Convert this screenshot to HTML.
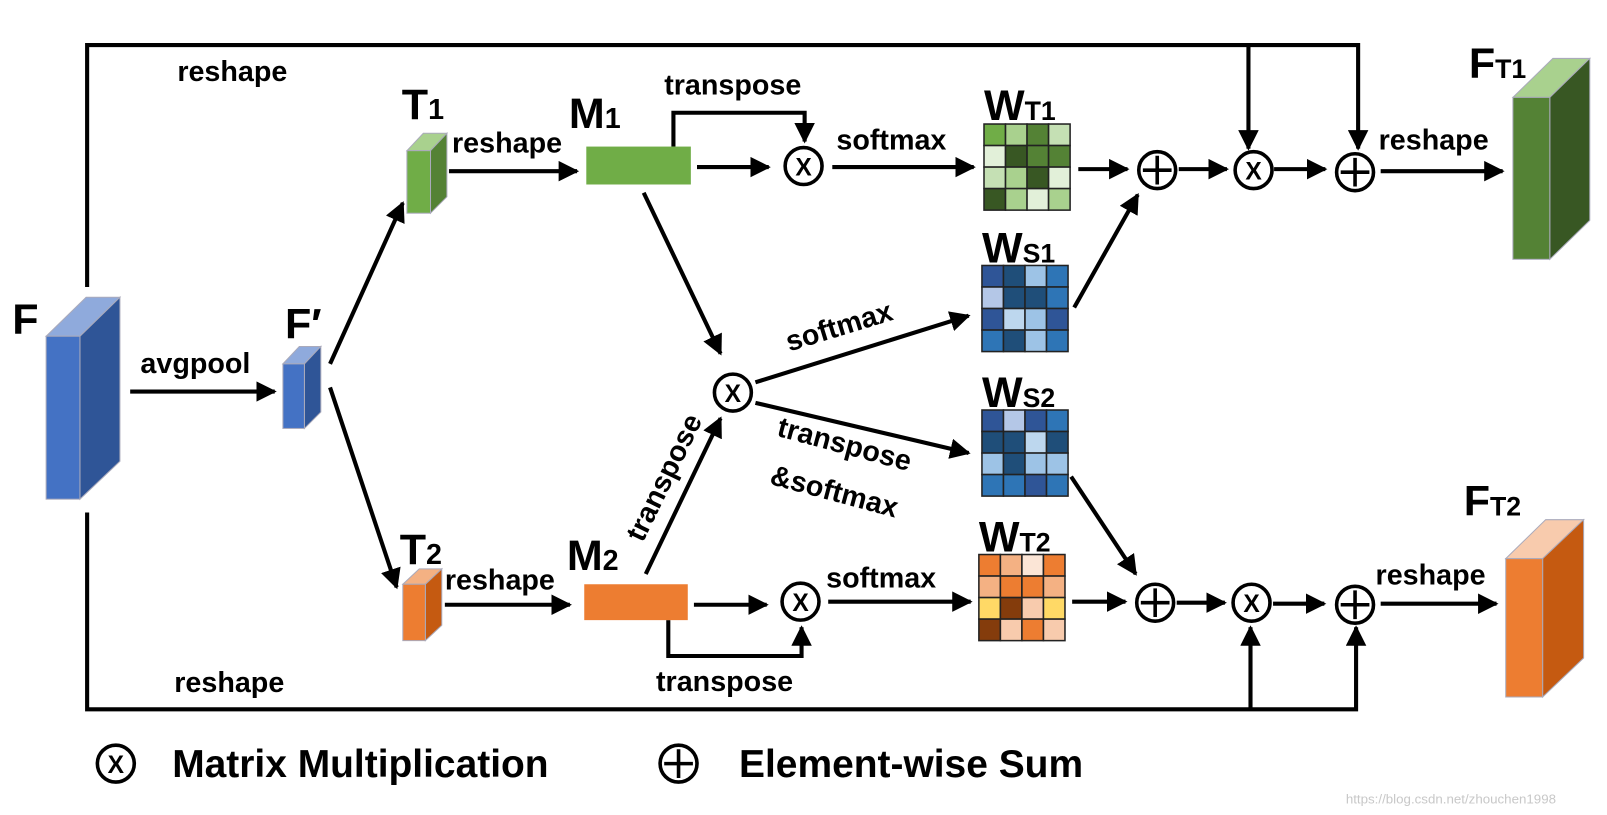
<!DOCTYPE html>
<html><head><meta charset="utf-8"><style>
html,body{margin:0;padding:0;background:#fff;}
svg{display:block}
text{font-family:"Liberation Sans","DejaVu Sans",sans-serif;font-weight:bold;fill:#000}
</style></head><body>
<svg width="1607" height="815" viewBox="0 0 1607 815" xmlns="http://www.w3.org/2000/svg">
<defs>
<marker id="a" viewBox="0 0 10 10" refX="9" refY="5" markerWidth="5" markerHeight="5" orient="auto" markerUnits="strokeWidth"><path d="M0,0 L10,5 L0,10 z" fill="#000"/></marker>
</defs>
<g transform="scale(1.025)">
<g stroke="#000" stroke-width="4" fill="none">
<path d="M85,280 V44 H1325 V145" marker-end="url(#a)"/>
<path d="M1218,44 V145" marker-end="url(#a)"/>
<path d="M85,500 V692 H1323 V612" marker-end="url(#a)"/>
<path d="M1220,692 V612" marker-end="url(#a)"/>
<path d="M127,382 H268" marker-end="url(#a)"/>
<path d="M322,355 L393,198" marker-end="url(#a)"/>
<path d="M322,378 L387,573" marker-end="url(#a)"/>
<path d="M438,167 H563" marker-end="url(#a)"/>
<path d="M434,590 H556" marker-end="url(#a)"/>
<path d="M680,163 H750" marker-end="url(#a)"/>
<path d="M657,143 V110 H785 V138" marker-end="url(#a)"/>
<path d="M812,163 H950" marker-end="url(#a)"/>
<path d="M1052,165 H1100" marker-end="url(#a)"/>
<path d="M1150,165 H1197" marker-end="url(#a)"/>
<path d="M1243,165 H1293" marker-end="url(#a)"/>
<path d="M1347,167 H1466" marker-end="url(#a)"/>
<path d="M1048,300 L1110,190" marker-end="url(#a)"/>
<path d="M628,188 L703,345" marker-end="url(#a)"/>
<path d="M630,560 L703,408" marker-end="url(#a)"/>
<path d="M737,373 L945,308" marker-end="url(#a)"/>
<path d="M737,393 L945,442" marker-end="url(#a)"/>
<path d="M1045,465 L1108,560" marker-end="url(#a)"/>
<path d="M677,590 H748" marker-end="url(#a)"/>
<path d="M652,605 V640 H782 V612" marker-end="url(#a)"/>
<path d="M808,587 H947" marker-end="url(#a)"/>
<path d="M1046,587 H1098" marker-end="url(#a)"/>
<path d="M1148,588 H1195" marker-end="url(#a)"/>
<path d="M1242,589 H1292" marker-end="url(#a)"/>
<path d="M1347,589 H1460" marker-end="url(#a)"/>
</g>
<g stroke="#000" stroke-width="3.5" fill="#fff">
<circle cx="784" cy="162" r="18"/><circle cx="715" cy="383" r="18"/><circle cx="781" cy="587" r="18"/>
<circle cx="1223" cy="166" r="18"/><circle cx="1221" cy="588" r="18"/><circle cx="113" cy="745" r="18"/>
<circle cx="1129" cy="166" r="18"/><circle cx="1322" cy="168" r="18"/><circle cx="1127" cy="588" r="18"/><circle cx="1322" cy="590" r="18"/><circle cx="662" cy="745" r="18"/>
</g>
<g stroke="#000" stroke-width="3.5">
<path d="M1129,152 V180 M1115,166 H1143"/><path d="M1322,154 V182 M1308,168 H1336"/>
<path d="M1127,574 V602 M1113,588 H1141"/><path d="M1322,576 V604 M1308,590 H1336"/>
<path d="M662,731 V759 M648,745 H676"/>
</g>
<g font-size="24" text-anchor="middle">
<text x="784" y="171">X</text><text x="715" y="392">X</text><text x="781" y="596">X</text>
<text x="1223" y="175">X</text><text x="1221" y="597">X</text><text x="113" y="754">X</text>
</g>
<g stroke="#aab" stroke-width="1">
<path d="M45,328 L84,290 H117 L78,328 Z" fill="#8faadc"/><path d="M78,328 L117,290 V450 L78,487 Z" fill="#2f5597"/><rect x="45" y="328" width="33" height="159" fill="#4472c4"/>
<path d="M276,355 L292,338 H313 L297,355 Z" fill="#8faadc"/><path d="M297,355 L313,338 V402 L297,418 Z" fill="#2f5597"/><rect x="276" y="355" width="21" height="63" fill="#4472c4"/>
<path d="M397,147 L413,130 H436 L420,147 Z" fill="#a9d18e"/><path d="M420,147 L436,130 V192 L420,208 Z" fill="#548235"/><rect x="397" y="147" width="23" height="61" fill="#70ad47"/>
<path d="M393,570 L409,555 H431 L415,570 Z" fill="#f4b183"/><path d="M415,570 L431,555 V610 L415,625 Z" fill="#c55a11"/><rect x="393" y="570" width="22" height="55" fill="#ed7d31"/>
<path d="M1476,95 L1515,57 H1551 L1512,95 Z" fill="#a9d18e"/><path d="M1512,95 L1551,57 V215 L1512,253 Z" fill="#385723"/><rect x="1476" y="95" width="36" height="158" fill="#548235"/>
<path d="M1469,545 L1508,507 H1545 L1505,545 Z" fill="#f8cbad"/><path d="M1505,545 L1545,507 V642 L1505,680 Z" fill="#c55a11"/><rect x="1469" y="545" width="36" height="135" fill="#ed7d31"/>
</g>
<rect x="572" y="143" width="102" height="37" fill="#70ad47"/>
<rect x="570" y="570" width="101" height="35" fill="#ed7d31"/>
<g stroke="#222" stroke-width="1.5">
<g transform="translate(960,121)">
<rect x="0" y="0" width="21" height="21" fill="#70ad47"/><rect x="21" y="0" width="21" height="21" fill="#a9d18e"/><rect x="42" y="0" width="21" height="21" fill="#548235"/><rect x="63" y="0" width="21" height="21" fill="#c5e0b4"/>
<rect x="0" y="21" width="21" height="21" fill="#e2f0d9"/><rect x="21" y="21" width="21" height="21" fill="#385723"/><rect x="42" y="21" width="21" height="21" fill="#548235"/><rect x="63" y="21" width="21" height="21" fill="#548235"/>
<rect x="0" y="42" width="21" height="21" fill="#c5e0b4"/><rect x="21" y="42" width="21" height="21" fill="#a9d18e"/><rect x="42" y="42" width="21" height="21" fill="#385723"/><rect x="63" y="42" width="21" height="21" fill="#e2f0d9"/>
<rect x="0" y="63" width="21" height="21" fill="#385723"/><rect x="21" y="63" width="21" height="21" fill="#a9d18e"/><rect x="42" y="63" width="21" height="21" fill="#e2f0d9"/><rect x="63" y="63" width="21" height="21" fill="#a9d18e"/>
</g>
<g transform="translate(958,259)">
<rect x="0" y="0" width="21" height="21" fill="#2f5597"/><rect x="21" y="0" width="21" height="21" fill="#1f4e79"/><rect x="42" y="0" width="21" height="21" fill="#9dc3e6"/><rect x="63" y="0" width="21" height="21" fill="#2e75b6"/>
<rect x="0" y="21" width="21" height="21" fill="#b4c7e7"/><rect x="21" y="21" width="21" height="21" fill="#1f4e79"/><rect x="42" y="21" width="21" height="21" fill="#1f4e79"/><rect x="63" y="21" width="21" height="21" fill="#2e75b6"/>
<rect x="0" y="42" width="21" height="21" fill="#2f5597"/><rect x="21" y="42" width="21" height="21" fill="#bdd7ee"/><rect x="42" y="42" width="21" height="21" fill="#9dc3e6"/><rect x="63" y="42" width="21" height="21" fill="#2f5597"/>
<rect x="0" y="63" width="21" height="21" fill="#2e75b6"/><rect x="21" y="63" width="21" height="21" fill="#1f4e79"/><rect x="42" y="63" width="21" height="21" fill="#9dc3e6"/><rect x="63" y="63" width="21" height="21" fill="#2e75b6"/>
</g>
<g transform="translate(958,400)">
<rect x="0" y="0" width="21" height="21" fill="#2f5597"/><rect x="21" y="0" width="21" height="21" fill="#b4c7e7"/><rect x="42" y="0" width="21" height="21" fill="#2f5597"/><rect x="63" y="0" width="21" height="21" fill="#2e75b6"/>
<rect x="0" y="21" width="21" height="21" fill="#1f4e79"/><rect x="21" y="21" width="21" height="21" fill="#1f4e79"/><rect x="42" y="21" width="21" height="21" fill="#bdd7ee"/><rect x="63" y="21" width="21" height="21" fill="#1f4e79"/>
<rect x="0" y="42" width="21" height="21" fill="#9dc3e6"/><rect x="21" y="42" width="21" height="21" fill="#1f4e79"/><rect x="42" y="42" width="21" height="21" fill="#9dc3e6"/><rect x="63" y="42" width="21" height="21" fill="#9dc3e6"/>
<rect x="0" y="63" width="21" height="21" fill="#2e75b6"/><rect x="21" y="63" width="21" height="21" fill="#2e75b6"/><rect x="42" y="63" width="21" height="21" fill="#2f5597"/><rect x="63" y="63" width="21" height="21" fill="#2e75b6"/>
</g>
<g transform="translate(955,541)">
<rect x="0" y="0" width="21" height="21" fill="#ed7d31"/><rect x="21" y="0" width="21" height="21" fill="#f4b183"/><rect x="42" y="0" width="21" height="21" fill="#fbe5d6"/><rect x="63" y="0" width="21" height="21" fill="#ed7d31"/>
<rect x="0" y="21" width="21" height="21" fill="#f4b183"/><rect x="21" y="21" width="21" height="21" fill="#ed7d31"/><rect x="42" y="21" width="21" height="21" fill="#ed7d31"/><rect x="63" y="21" width="21" height="21" fill="#f4b183"/>
<rect x="0" y="42" width="21" height="21" fill="#ffd966"/><rect x="21" y="42" width="21" height="21" fill="#843c0c"/><rect x="42" y="42" width="21" height="21" fill="#f8cbad"/><rect x="63" y="42" width="21" height="21" fill="#ffd966"/>
<rect x="0" y="63" width="21" height="21" fill="#843c0c"/><rect x="21" y="63" width="21" height="21" fill="#f8cbad"/><rect x="42" y="63" width="21" height="21" fill="#ed7d31"/><rect x="63" y="63" width="21" height="21" fill="#f8cbad"/>
</g>
</g>
<g font-size="28">
<text x="173" y="79">reshape</text>
<text x="170" y="675">reshape</text>
<text x="137" y="364">avgpool</text>
<text x="441" y="149">reshape</text>
<text x="434" y="575">reshape</text>
<text x="648" y="92">transpose</text>
<text x="640" y="674">transpose</text>
<text x="816" y="146">softmax</text>
<text x="806" y="573">softmax</text>
<text x="1345" y="146">reshape</text>
<text x="1342" y="570">reshape</text>
<text x="0" y="0" transform="translate(770,343) rotate(-17)">softmax</text>
<text x="0" y="0" transform="translate(757,425) rotate(15)">transpose</text>
<text x="0" y="0" transform="translate(750,472) rotate(15)">&amp;softmax</text>
<text x="0" y="0" transform="translate(627,530) rotate(-64)">transpose</text>
</g>
<g font-size="42">
<text x="12" y="326">F</text>
<text x="278" y="330">F′</text>
<text x="392" y="116">T<tspan font-size="28">1</tspan></text>
<text x="390" y="550">T<tspan font-size="28">2</tspan></text>
<text x="555" y="125">M<tspan font-size="28">1</tspan></text>
<text x="553" y="556">M<tspan font-size="28">2</tspan></text>
<text x="960" y="117">W<tspan font-size="26">T1</tspan></text>
<text x="958" y="256">W<tspan font-size="26">S1</tspan></text>
<text x="958" y="397">W<tspan font-size="26">S2</tspan></text>
<text x="955" y="538">W<tspan font-size="26">T2</tspan></text>
<text x="1433" y="76">F<tspan font-size="26">T1</tspan></text>
<text x="1428" y="503">F<tspan font-size="26">T2</tspan></text>
</g>
<g font-size="38">
<text x="168" y="758">Matrix Multiplication</text>
<text x="721" y="758">Element-wise Sum</text>
</g>
<text x="1313" y="784" font-size="13" style="font-weight:normal;fill:#c8c8c8">https://blog.csdn.net/zhouchen1998</text>
</g>
</svg>
</body></html>
